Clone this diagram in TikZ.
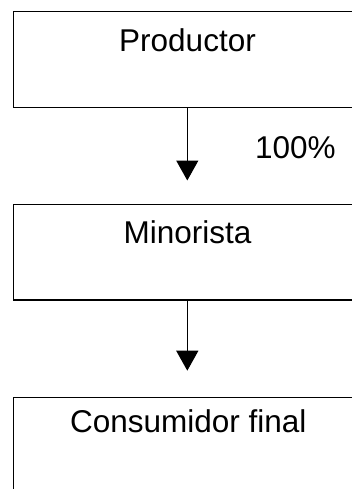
\documentclass[tikz,border=0pt]{standalone}
\usepackage{fontspec}
\setmainfont{Liberation Sans}
\usetikzlibrary{arrows.meta}
\begin{document}
\begin{tikzpicture}[x=1pt,y=1pt,
  box/.style={draw=black, line width=1.6pt, rectangle, inner sep=0pt, anchor=north west, minimum width=360pt},
  lbl/.style={font=\fontsize{31.5}{37}\selectfont, anchor=base, inner sep=0pt},
  flow/.style={line width=1.3pt, -{Triangle[width=22pt,length=20pt]}}]
\useasboundingbox (0,0) rectangle (352,-489);
\clip (0,0) rectangle (352,-489);
\fill[white] (0,0) rectangle (352,-489);
% boxes
\node[box, minimum height=96pt] (b1) at (12.7,-10.7) {};
\node[box, minimum height=95.5pt] (b2) at (12.7,-203.5) {};
\node[box, minimum height=110pt] (b3) at (12.7,-396.7) {};
% texts
\node[lbl] (t1) at (187.5,-52) {Productor};
\node[lbl] (t2) at (187.5,-243.3) {Minorista};
\node[lbl] (t3) at (188.3,-432.3) {Consumidor final};
\node[lbl, anchor=base west] (pc) at (255,-158.3) {100\%};
% arrows
\coordinate (tip1) at (187.3,-180.5);
\coordinate (tip2) at (187.3,-370.7);
\draw[flow] (b1.south -| tip1) -- (tip1);
\draw[flow] (b2.south -| tip2) -- (tip2);
\end{tikzpicture}
\end{document}
